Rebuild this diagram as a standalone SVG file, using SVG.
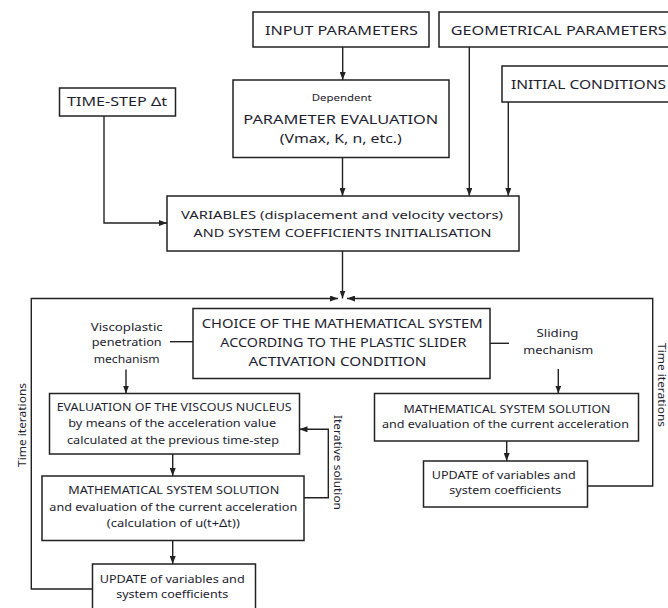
<svg xmlns="http://www.w3.org/2000/svg" width="668" height="608" viewBox="0 0 668 608">
<defs>
<marker id="ah" markerUnits="userSpaceOnUse" markerWidth="8" markerHeight="6" refX="8" refY="3" orient="auto">
<path d="M0,0 L8,3 L0,6 z" fill="#222"/>
</marker>
<style>
.box{fill:#fff;stroke:#222;stroke-width:1.5}
.ln{fill:none;stroke:#222;stroke-width:1.4}
.ar{marker-end:url(#ah)}
text{font-family:"Noto Sans","Open Sans","Liberation Sans",sans-serif;fill:#1e1e30;text-anchor:middle}
.t{font-size:12.5px}
.s{font-size:11px}
.xs{font-size:9px}
.r{font-size:10px}
</style>
</defs>
<rect width="668" height="608" fill="#fff"/>
<g id="connectors">
<line class="ln ar" x1="342.7" y1="47" x2="342.7" y2="80"/>
<line class="ln ar" x1="342.5" y1="157.5" x2="342.5" y2="196"/>
<line class="ln ar" x1="469.3" y1="47" x2="469.3" y2="196"/>
<line class="ln ar" x1="508.3" y1="102" x2="508.3" y2="196"/>
<polyline class="ln ar" points="104,116 104,223 167,223"/>
<line class="ln ar" x1="342.5" y1="251" x2="342.5" y2="298.5"/>
<polyline class="ln ar" points="92.5,589 31.3,589 31.3,298.5 338,298.5"/>
<polyline class="ln ar" points="587.5,486 652.7,486 652.7,298.5 347,298.5"/>
<line class="ln" x1="170" y1="341.7" x2="193" y2="341.7"/>
<line class="ln ar" x1="126" y1="369.5" x2="126" y2="393.5"/>
<line class="ln" x1="490" y1="343.3" x2="509" y2="343.3"/>
<line class="ln ar" x1="558.3" y1="369" x2="558.3" y2="393.5"/>
<line class="ln ar" x1="172.7" y1="454" x2="172.7" y2="476"/>
<line class="ln ar" x1="172.7" y1="540.5" x2="172.7" y2="564"/>
<polyline class="ln ar" points="304,497.7 328.3,497.7 328.3,429.3 299.5,429.3"/>
<line class="ln ar" x1="506.7" y1="441" x2="506.7" y2="461"/>
</g>
<g id="input-parameters">
<rect class="box" x="253" y="12" width="176" height="35"/>
<text class="t" x="341.5" y="35" textLength="153" lengthAdjust="spacingAndGlyphs">INPUT PARAMETERS</text>
</g>
<g id="geometrical-parameters">
<rect class="box" x="439" y="12" width="240" height="35"/>
<text class="t" x="558.7" y="35" textLength="216" lengthAdjust="spacingAndGlyphs">GEOMETRICAL PARAMETERS</text>
</g>
<g id="initial-conditions">
<rect class="box" x="502" y="66" width="200" height="36"/>
<text class="t" x="588.5" y="89" textLength="155" lengthAdjust="spacingAndGlyphs">INITIAL CONDITIONS</text>
</g>
<g id="time-step">
<rect class="box" x="59.5" y="88" width="116" height="28"/>
<text class="t" x="117" y="105.5" textLength="100" lengthAdjust="spacingAndGlyphs">TIME-STEP Δt</text>
</g>
<g id="parameter-evaluation">
<rect class="box" x="233" y="80" width="216" height="77.5"/>
<text class="xs" x="341.7" y="101" textLength="60" lengthAdjust="spacingAndGlyphs">Dependent</text>
<text class="t" x="340.8" y="124.3" textLength="195" lengthAdjust="spacingAndGlyphs">PARAMETER EVALUATION</text>
<text class="t" x="340.8" y="142.5" textLength="122" lengthAdjust="spacingAndGlyphs">(Vmax, K, n, etc.)</text>
</g>
<g id="variables-initialisation">
<rect class="box" x="167" y="196" width="352" height="55"/>
<text class="s" x="342" y="219.3" textLength="322" lengthAdjust="spacingAndGlyphs">VARIABLES (displacement and velocity vectors)</text>
<text class="s" x="342.5" y="236.7" textLength="298" lengthAdjust="spacingAndGlyphs">AND SYSTEM COEFFICIENTS INITIALISATION</text>
</g>
<g id="choice-of-system">
<rect class="box" x="193" y="308.5" width="297" height="70"/>
<text class="t" x="342.2" y="328.3" textLength="281" lengthAdjust="spacingAndGlyphs">CHOICE OF THE MATHEMATICAL SYSTEM</text>
<text class="t" x="343.3" y="346.7" textLength="246" lengthAdjust="spacingAndGlyphs">ACCORDING TO THE PLASTIC SLIDER</text>
<text class="t" x="337.5" y="366" textLength="178" lengthAdjust="spacingAndGlyphs">ACTIVATION CONDITION</text>
</g>
<g id="viscoplastic-label">
<text class="s" x="126.7" y="330.7" textLength="72" lengthAdjust="spacingAndGlyphs">Viscoplastic</text>
<text class="s" x="126.7" y="346" textLength="70" lengthAdjust="spacingAndGlyphs">penetration</text>
<text class="s" x="126.7" y="362.7" textLength="66" lengthAdjust="spacingAndGlyphs">mechanism</text>
</g>
<g id="sliding-label">
<text class="s" x="557.5" y="337" textLength="42" lengthAdjust="spacingAndGlyphs">Sliding</text>
<text class="s" x="558.3" y="354" textLength="70" lengthAdjust="spacingAndGlyphs">mechanism</text>
</g>
<g id="evaluation-viscous-nucleus">
<rect class="box" x="49.5" y="393.5" width="250" height="60.5"/>
<text class="s" x="174.2" y="410.5" textLength="235" lengthAdjust="spacingAndGlyphs">EVALUATION OF THE VISCOUS NUCLEUS</text>
<text class="s" x="172.2" y="426.7" textLength="208" lengthAdjust="spacingAndGlyphs">by means of the acceleration value</text>
<text class="s" x="173" y="444.3" textLength="212" lengthAdjust="spacingAndGlyphs">calculated at the previous time-step</text>
</g>
<g id="math-solution-left">
<rect class="box" x="42" y="476" width="262" height="64.5"/>
<text class="s" x="173.8" y="494.3" textLength="211" lengthAdjust="spacingAndGlyphs">MATHEMATICAL SYSTEM SOLUTION</text>
<text class="s" x="173.3" y="511" textLength="248" lengthAdjust="spacingAndGlyphs">and evaluation of the current acceleration</text>
<text class="s" x="173.3" y="526.7" textLength="133" lengthAdjust="spacingAndGlyphs">(calculation of u(t+Δt))</text>
</g>
<g id="update-left">
<rect class="box" x="92.5" y="564" width="163" height="46"/>
<text class="s" x="172.2" y="583.3" textLength="145" lengthAdjust="spacingAndGlyphs">UPDATE of variables and</text>
<text class="s" x="172.2" y="597.7" textLength="112" lengthAdjust="spacingAndGlyphs">system coefficients</text>
</g>
<g id="math-solution-right">
<rect class="box" x="374.5" y="393.5" width="264" height="47.5"/>
<text class="s" x="507" y="412.7" textLength="207" lengthAdjust="spacingAndGlyphs">MATHEMATICAL SYSTEM SOLUTION</text>
<text class="s" x="505.5" y="428.3" textLength="247" lengthAdjust="spacingAndGlyphs">and evaluation of the current acceleration</text>
</g>
<g id="update-right">
<rect class="box" x="423.5" y="461" width="164" height="46"/>
<text class="s" x="503.8" y="479.3" textLength="144" lengthAdjust="spacingAndGlyphs">UPDATE of variables and</text>
<text class="s" x="505.3" y="494.3" textLength="112" lengthAdjust="spacingAndGlyphs">system coefficients</text>
</g>
<g id="loop-labels">
<text class="r" transform="translate(26,425) rotate(-90)" textLength="84" lengthAdjust="spacingAndGlyphs">Time iterations</text>
<text class="r" transform="translate(657.5,385) rotate(90)" textLength="84" lengthAdjust="spacingAndGlyphs">Time iterations</text>
<text class="r" transform="translate(333.5,462.5) rotate(90)" textLength="95" lengthAdjust="spacingAndGlyphs">Iterative solution</text>
</g>
</svg>
